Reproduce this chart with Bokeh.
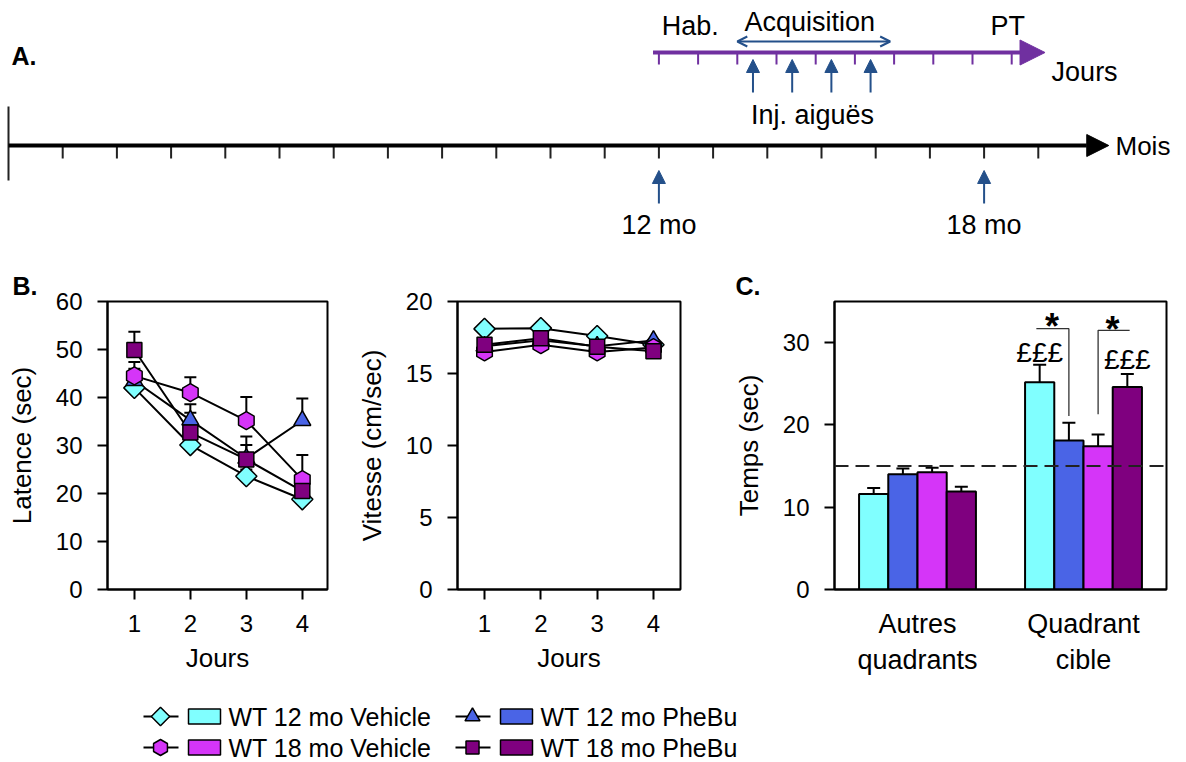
import numpy as np
from bokeh.plotting import figure
from bokeh.models import (Range1d, FactorRange, Arrow, NormalHead, OpenHead, Span,
                          FixedTicker, ColumnDataSource, Title)
from bokeh.transform import dodge
from bokeh.layouts import column, row
from bokeh.core.properties import value
from bokeh.embed import file_html
from bokeh.resources import INLINE

# ---------------- data ----------------
groups = ["WT 12 mo Vehicle", "WT 12 mo PheBu", "WT 18 mo Vehicle", "WT 18 mo PheBu"]

# Panel B - latency (sec) per day, mean and SEM (upper)
days = [1, 2, 3, 4]
lat_wt12_veh = [42.0, 30.1, 23.6, 18.8]
lat_wt12_phe = [43.5, 35.3, 27.3, 35.2]
lat_wt18_veh = [44.5, 41.0, 35.2, 22.9]
lat_wt18_phe = [49.9, 32.7, 27.1, 20.5]
lat_err_wt12_veh = [1.2, 1.2, 1.4, 1.0]
lat_err_wt12_phe = [2.5, 3.3, 4.6, 4.6]
lat_err_wt18_veh = [2.9, 3.2, 4.9, 5.1]
lat_err_wt18_phe = [3.8, 4.1, 3.0, 2.0]

# Panel B - swim speed (cm/sec)
vit_wt12_veh = [18.1, 18.15, 17.6, 17.0]
vit_wt12_phe = [16.9, 17.3, 16.9, 17.3]
vit_wt18_veh = [16.5, 17.0, 16.5, 16.8]
vit_wt18_phe = [17.0, 17.45, 16.85, 16.55]

# Panel C - probe test time in quadrants (sec)
quadrants = ["Autres\nquadrants", "Quadrant\ncible"]
temps_wt12_veh = [11.6, 25.2]
temps_wt12_phe = [14.0, 18.1]
temps_wt18_veh = [14.25, 17.4]
temps_wt18_phe = [11.9, 24.6]
temps_err_wt12_veh = [0.75, 2.1]
temps_err_wt12_phe = [0.7, 2.15]
temps_err_wt18_veh = [0.55, 1.45]
temps_err_wt18_phe = [0.6, 1.6]
chance_level = 15

# Panel A - timeline
month_ticks = list(range(1, 20))
month_marks = [12, 18]
month_mark_labels = ["12 mo", "18 mo"]
day_ticks = list(range(10))
injection_days = [2.4, 3.4, 4.4, 5.4]
acquisition_days = [2.0, 5.9]
phase_labels = ["Hab.", "Acquisition", "PT"]
phase_days = [0.8, 3.85, 8.9]

# ---------------- style ----------------
FONT = "Liberation Sans"
NAVY = "#24508A"
PURPLE = "#7030A0"
colors = ["#80FFFF", "#4A64E6", "#D535F8", "#7F007F"]
markers = ["square", "triangle", "hex", "square"]
marker_angles = [np.pi / 4, 0, np.pi / 2, 0]
marker_sizes = [15, 17, 18, 15]
W = 1186
MONTH_PX = 54.2
DAY_PX = 39.2
M0_PX = 8
DAY0_PX = M0_PX + 12 * MONTH_PX
TOP_H = 266
PANEL_TOP = 35   # frame top at 301
PANEL_H = PANEL_TOP + 288 + 101

def txt(p, x, y, t, size="26px", align="center", baseline="middle", style="normal", **kw):
    p.text(x=x, y=y, text=t, text_font=value(FONT), text_font_size=size,
           text_align=align, text_baseline=baseline, text_font_style=style,
           text_color="black", **kw)

# ---------------- top: timeline ----------------
top = figure(width=W, height=TOP_H,
             x_range=Range1d(-M0_PX / MONTH_PX, (W - M0_PX) / MONTH_PX),
             y_range=Range1d(TOP_H, 0), x_axis_location=None, y_axis_location=None,
             min_border=0, output_backend="svg", toolbar_location=None)
top.grid.visible = False
top.outline_line_color = None
top.extra_x_ranges = {"days": Range1d(-DAY0_PX / DAY_PX, (W - DAY0_PX) / DAY_PX),
                      "px": Range1d(0, W)}

# months axis
top.add_layout(Arrow(x_start=0, y_start=145, x_end=20.3, y_end=145, line_width=4,
                     line_color="black",
                     end=NormalHead(size=22, fill_color="black", line_color="black")))
top.segment(x0=month_ticks, y0=[145] * len(month_ticks), x1=month_ticks,
            y1=[158] * len(month_ticks), line_width=2, line_color="#222222")
top.segment(x0=[0], y0=[106], x1=[0], y1=[180], line_width=2, line_color="#222222")
for m in month_marks:
    top.add_layout(Arrow(x_start=m, y_start=203, x_end=m, y_end=170, line_width=2,
                         line_color=NAVY,
                         end=NormalHead(size=13, fill_color=NAVY, line_color=NAVY)))
txt(top, month_marks, [224, 224], month_mark_labels, size="27px")
txt(top, [1115], [145], ["Mois"], align="left", x_range_name="px")

# days axis
top.add_layout(Arrow(x_start=-0.15, y_start=52, x_end=9.85, y_end=52, line_width=4,
                     line_color=PURPLE, x_range_name="days",
                     end=NormalHead(size=25, fill_color=PURPLE, line_color=PURPLE)))
top.segment(x0=day_ticks, y0=[52] * len(day_ticks), x1=day_ticks, y1=[64] * len(day_ticks),
            line_width=2, line_color=PURPLE, x_range_name="days")
top.add_layout(Arrow(x_start=acquisition_days[0], y_start=41, x_end=acquisition_days[1],
                     y_end=41, line_width=2, line_color=NAVY, x_range_name="days",
                     start=OpenHead(size=10, line_color=NAVY, line_width=2),
                     end=OpenHead(size=10, line_color=NAVY, line_width=2)))
for d in injection_days:
    top.add_layout(Arrow(x_start=d, y_start=92, x_end=d, y_end=59, line_width=2,
                         line_color=NAVY, x_range_name="days",
                         end=NormalHead(size=13, fill_color=NAVY, line_color=NAVY)))
txt(top, phase_days, [25, 21, 25], phase_labels, size="27px", x_range_name="days")
txt(top, [10.86], [71], ["Jours"], size="27px", x_range_name="days")
txt(top, [3.92], [114], ["Inj. aiguës"], size="27px", x_range_name="days")
txt(top, [11], [55], ["A."], size="25px", align="left", style="bold", x_range_name="px")

# ---------------- panels ----------------
def make_panel(width, ml, mr, x_range, y_range, xlabel, ylabel, yticks, letter):
    p = figure(width=width, height=PANEL_H, x_range=x_range, y_range=y_range,
               min_border_left=ml, min_border_right=mr, min_border_top=PANEL_TOP,
               min_border_bottom=101, output_backend="svg", toolbar_location=None)
    p.title = Title(text=letter, align="left", offset=12 - ml, standoff=4,
                    text_font=FONT, text_font_size="25px", text_font_style="bold",
                    text_color="black")
    p.grid.visible = False
    p.outline_line_color = "black"
    p.outline_line_width = 2
    p.yaxis.ticker = FixedTicker(ticks=yticks)
    for ax in p.axis:
        ax.axis_line_width = 2
        ax.axis_line_color = "black"
        ax.major_tick_line_width = 2
        ax.major_tick_line_color = "black"
        ax.major_tick_in = 0
        ax.major_tick_out = 10
        ax.minor_tick_line_color = None
        ax.major_label_text_font = FONT
        ax.major_label_text_font_size = "24px"
        ax.major_label_text_color = "black"
        ax.axis_label_text_font = FONT
        ax.axis_label_text_font_size = "26px"
        ax.axis_label_text_font_style = "normal"
        ax.axis_label_text_color = "black"
        ax.major_label_standoff = 15
        ax.axis_label_standoff = 16
    p.xaxis.axis_label = xlabel
    p.yaxis.axis_label = ylabel
    p.xaxis.axis_label_standoff = 8
    return p

def line_panel(p, series, errors):
    for vals in series:
        p.line(days, vals, line_color="black", line_width=2)
    if errors is not None:
        for vals, errs in zip(series, errors):
            tops = [v + e for v, e in zip(vals, errs)]
            p.segment(x0=days, y0=vals, x1=days, y1=tops, line_color="black", line_width=2)
            p.scatter(days, tops, marker="dash", size=12, line_color="black", line_width=2)
    for vals, mk, ang, sz, col in zip(series, markers, marker_angles, marker_sizes, colors):
        p.scatter(days, vals, marker=mk, angle=ang, size=sz, fill_color=col,
                  line_color="black", line_width=1.5)

pL = make_panel(343, 107, 16, Range1d(0.52, 4.45), Range1d(0, 60), "Jours", "Latence (sec)",
                [0, 10, 20, 30, 40, 50, 60], "B.")
pL.xaxis.ticker = FixedTicker(ticks=days)
line_panel(pL, [lat_wt12_veh, lat_wt12_phe, lat_wt18_veh, lat_wt18_phe],
           [lat_err_wt12_veh, lat_err_wt12_phe, lat_err_wt18_veh, lat_err_wt18_phe])

pV = make_panel(387, 114, 50, Range1d(0.52, 4.48), Range1d(0, 20), "Jours",
                "Vitesse (cm/sec)", [0, 5, 10, 15, 20], "")
pV.xaxis.ticker = FixedTicker(ticks=days)
line_panel(pV, [vit_wt12_veh, vit_wt12_phe, vit_wt18_veh, vit_wt18_phe], None)

# panel C starts at x = 730
pC = make_panel(456, 102, 20, FactorRange(factors=quadrants), Range1d(0, 35), None,
                "Temps (sec)", [0, 10, 20, 30], "C.")
pC.title.offset = 733 - 730 - 102
pC.xaxis.major_tick_out = 0
pC.xaxis.major_tick_line_color = None
pC.xaxis.major_label_text_font_size = "27px"
pC.xaxis.major_label_standoff = 19

c_series = [temps_wt12_veh, temps_wt12_phe, temps_wt18_veh, temps_wt18_phe]
c_errs = [temps_err_wt12_veh, temps_err_wt12_phe, temps_err_wt18_veh, temps_err_wt18_phe]
offsets = [-0.264, -0.088, 0.088, 0.264]
for vals, errs, col, off in zip(c_series, c_errs, colors, offsets):
    src = ColumnDataSource(dict(q=quadrants, v=vals, t=[a + b for a, b in zip(vals, errs)]))
    xd = dodge("q", off, range=pC.x_range)
    pC.segment(x0=xd, y0="v", x1=xd, y1="t", source=src, line_color="black", line_width=2)
    pC.scatter(x=xd, y="t", source=src, marker="dash", size=13, line_color="black",
               line_width=2)
    pC.vbar(x=xd, top="v", width=0.176, source=src, fill_color=col, line_color="black",
            line_width=2)
pC.add_layout(Span(location=chance_level, dimension="width", line_color="#222222",
                   line_width=2, line_dash="14 7"))

cib = quadrants[1]
pC.line(x=[(cib, -0.284), (cib, -0.088), (cib, -0.088)], y=[31.7, 31.7, 21.1],
        line_color="#333333", line_width=1.3)
pC.line(x=[(cib, 0.088), (cib, 0.088), (cib, 0.278)], y=[21.3, 31.5, 31.5],
        line_color="#333333", line_width=1.3)
txt(pC, [(cib, -0.264), (cib, 0.264)], [28.8, 28.0], ["£££", "£££"], size="28px")
txt(pC, [(cib, -0.189), (cib, 0.175)], [32.0, 31.6], ["*", "*"], size="36px", style="bold")

# ---------------- legend ----------------
LEG_TOP = TOP_H + PANEL_H
leg = figure(width=W, height=762 - LEG_TOP, x_range=Range1d(0, W),
             y_range=Range1d(762, LEG_TOP), x_axis_location=None, y_axis_location=None,
             min_border=0, output_backend="svg", toolbar_location=None)
leg.grid.visible = False
leg.outline_line_color = None
leg_x0 = [143, 455, 143, 455]
leg_y = [716, 716, 747, 747]
for i in range(4):
    x0, y = leg_x0[i], leg_y[i]
    leg.segment(x0=[x0], y0=[y], x1=[x0 + 35], y1=[y], line_color="black", line_width=2)
    leg.scatter([x0 + 17], [y], marker=markers[i], angle=marker_angles[i],
                size=marker_sizes[i] - 2, fill_color=colors[i], line_color="black",
                line_width=1.5)
    leg.rect([x0 + 61], [y], width=32, height=15, fill_color=colors[i],
             line_color="black", line_width=1.5)
    txt(leg, [x0 + 85], [y], [groups[i]], size="25px", align="left")

layout = column(top, row(pL, pV, pC), leg)
open("out.html", "w").write(file_html(layout, INLINE))
